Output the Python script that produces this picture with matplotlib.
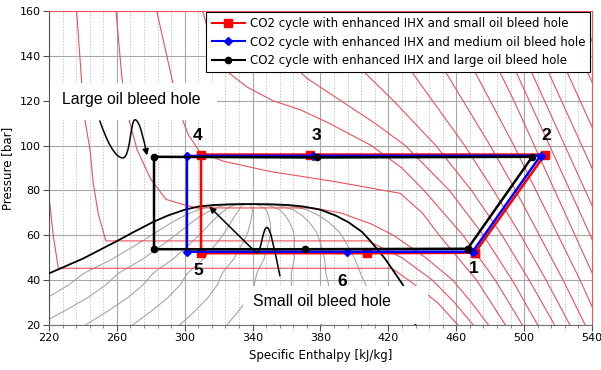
import numpy as np
import matplotlib
matplotlib.use("Agg")
import matplotlib.pyplot as plt
from matplotlib.path import Path
from matplotlib.patches import FancyArrowPatch, Rectangle
from matplotlib.lines import Line2D

# ---------------- cycle data ----------------
series_labels = ["CO2 cycle with enhanced IHX and small oil bleed hole",
                 "CO2 cycle with enhanced IHX and medium oil bleed hole",
                 "CO2 cycle with enhanced IHX and large oil bleed hole"]
# state order: 1, 2, 3, 4, 5, 6, back to 1
small_h = [471.0, 512.3, 373.8, 309.6, 309.6, 407.2, 471.0]
small_p = [52.2, 96.0, 96.0, 96.0, 52.0, 52.0, 52.2]
medium_h = [469.7, 509.7, 375.7, 301.3, 301.3, 395.4, 469.7]
medium_p = [52.7, 95.5, 95.4, 95.4, 52.7, 52.7, 52.7]
large_h = [466.7, 504.8, 377.7, 281.9, 281.9, 370.9, 466.7]
large_p = [54.0, 95.0, 94.7, 95.0, 53.8, 53.8, 54.0]

state_names = ["1", "2", "3", "4", "5", "6"]
state_label_h = [470.4, 512.9, 377.9, 307.8, 307.8, 392.7]
state_label_p = [45.4, 104.3, 104.3, 104.3, 44.5, 39.2]

# ---------------- saturation (dome) ----------------
sat_p = [20, 26, 32, 38, 43, 49.6, 57.4, 61.5, 65.8, 68.8, 71.4, 72.8, 73.5, 73.8, 73.9]
sat_hl = [158, 177, 195, 210, 220, 240, 260, 270, 281, 290, 300, 308, 317, 326, 334]
sat_hv = [436, 434.5, 432, 428.5, 424, 418, 409.5, 404.5, 396.5, 389, 380, 370, 361, 352, 340]
qualities = [0.1, 0.2, 0.3, 0.4, 0.5, 0.6, 0.7, 0.8, 0.9]

# ---------------- isotherms ----------------
iso_p = [20, 40, 60, 80, 100, 120, 140, 160]
h_70 = [518, 503, 487, 469, 448, 423, 396, 375]
h_80 = [527, 513, 498, 482, 465, 446, 427, 410]
h_90 = [536, 523, 509, 495, 480, 464, 448, 432]
h_100 = [545, 533, 520, 507, 494, 480, 466, 452]
h_110 = [554, 542, 530, 518, 506, 494, 481, 468]
h_120 = [563, 551, 539, 527, 515, 503, 491, 479]
h_130 = [572, 560, 548, 536, 524, 512, 500, 488]
h_140 = [581, 570, 558, 546, 534, 522, 510, 498]
h_150 = [590, 579, 568, 557, 545, 533, 521, 509]
h_160 = [600, 589, 578, 567, 556, 545, 533, 521]
h_170 = [609, 598, 588, 577, 566, 555, 544, 532]

t60_p = [20, 40, 60, 80, 100, 110, 120, 130, 140, 160]
t60_h = [508, 493, 476, 456, 430, 412, 392, 372, 358, 340]
t50_p = [20, 40, 60, 80, 90, 100, 110, 116, 120, 126, 133, 145, 160]
t50_h = [499, 483, 464, 441, 428, 410, 385, 368, 352, 337, 325, 316, 310.6]
t40_p = [20, 40, 60, 70, 78.7, 84, 88.5, 93, 97, 105, 115, 128, 160]
t40_h = [489, 472, 450, 440, 427, 388, 350, 323, 309, 302, 297, 293, 283.5]
t30_p = [160, 130, 112, 98, 85, 76, 73.5, 72.2, 72.2, 70, 65, 60, 50, 40, 30, 20]
t30_h = [259.5, 263, 267, 272, 280, 289, 300, 307, 375.7, 392, 410, 423, 442, 458, 469, 479]
t20_p = [160, 127.8, 111.4, 98, 83.2, 69.8, 57.5, 57.5, 50, 40, 30, 20]
t20_h = [236.3, 239.3, 241.2, 244.2, 246.1, 249, 253.5, 408, 428, 446, 459, 470]
t10_p = [160, 120, 80, 60, 45.3, 45.3, 40, 30, 20]
t10_h = [213, 216, 219.6, 222.5, 225.5, 422, 432, 449, 461]

# ---------------- figure ----------------
fig = plt.figure(figsize=(6.01, 3.70), dpi=100)
ax = fig.add_axes([0.0815, 0.1216, 0.9035, 0.8486])
ax.set_xlim(220, 540)
ax.set_ylim(20, 160)

ax.set_xticks(np.arange(220, 541, 40))
ax.set_xticks(np.arange(220, 541, 8), minor=True)
ax.set_yticks(np.arange(20, 161, 20))
ax.grid(which="major", color="#a8a8a8", lw=0.8, zorder=0)
ax.grid(which="minor", axis="x", color="#c8c8c8", lw=0.7, ls=(0, (1.5, 1.5)), zorder=0)
ax.set_axisbelow(True)

iso_color = "#e8525a"
iso_kw = dict(color=iso_color, lw=0.8, zorder=2)
for hs in [h_70, h_80, h_90, h_100, h_110, h_120, h_130, h_140, h_150, h_160, h_170]:
    ax.plot(hs, iso_p, **iso_kw)
for hs, ps in [(t60_h, t60_p), (t50_h, t50_p), (t40_h, t40_p), (t30_h, t30_p),
               (t20_h, t20_p), (t10_h, t10_p)]:
    ax.plot(hs, ps, **iso_kw)

# quality lines
hl = np.array(sat_hl); hv = np.array(sat_hv)
for q in qualities:
    ax.plot(hl + q * (hv - hl), sat_p, color="#a6a6a6", lw=0.8, zorder=1.5)

# saturation dome
dome_h = sat_hl + sat_hv[::-1]
dome_p = sat_p + sat_p[::-1]
ax.plot(dome_h, dome_p, color="black", lw=1.3, zorder=3)

# cycles
ax.plot(small_h, small_p, color="#ff0000", lw=1.8, marker="s", ms=5.5, zorder=4)
ax.plot(medium_h, medium_p, color="#0000ff", lw=1.8, marker="D", ms=4.5, zorder=4.1)
ax.plot(large_h, large_p, color="black", lw=1.8, marker="o", ms=4.5, zorder=4.2)

for name, h, p in zip(state_names, state_label_h, state_label_p):
    ax.text(h, p, name, ha="center", va="center", fontsize=12.5, fontweight="bold",
            family="Liberation Sans", zorder=6)

# annotation boxes
ax.add_patch(Rectangle((220.6, 111.4), 98.4, 16.5, facecolor="white", edgecolor="none", zorder=5))
ax.text(268.3, 120.6, "Large oil bleed hole", ha="center", va="center", fontsize=11.4,
        family="Liberation Sans", zorder=6)
ax.add_patch(Rectangle((334.3, 20.4), 109.0, 17.0, facecolor="white", edgecolor="none", zorder=5))
ax.text(380.9, 30.4, "Small oil bleed hole", ha="center", va="center", fontsize=11.4,
        family="Liberation Sans", zorder=6)

verts_large = [(250.0, 111.0), (254.0, 102.0), (259.0, 94.5), (263.5, 94.5),
               (268.0, 94.5), (268.0, 111.5), (270.7, 111.5),
               (273.5, 111.5), (276.0, 102.0), (277.8, 95.6)]
codes = [Path.MOVETO] + [Path.CURVE4] * 9
ax.add_patch(FancyArrowPatch(path=Path(verts_large, codes), arrowstyle="-|>",
                             mutation_scale=9, lw=1.1, color="black", zorder=7))
verts_small = [(356.1, 41.9), (352.5, 55.0), (350.5, 63.5), (348.4, 63.5),
               (346.0, 63.5), (345.0, 52.0), (342.4, 52.0), (314.5, 72.8)]
codes_s = [Path.MOVETO] + [Path.CURVE4] * 6 + [Path.LINETO]
ax.add_patch(FancyArrowPatch(path=Path(verts_small, codes_s), arrowstyle="-|>",
                             mutation_scale=9, lw=1.1, color="black", zorder=7))

# spines
ax.spines["top"].set_color(iso_color)
ax.spines["right"].set_color(iso_color)
ax.spines["left"].set_color("#505050")
ax.spines["bottom"].set_color("#707070")
ax.tick_params(which="major", length=4, width=0.8, color="#505050", labelsize=8, pad=2)
ax.tick_params(which="minor", length=2, width=0.6, color="#707070")

ax.set_xlabel("Specific Enthalpy [kJ/kg]", fontsize=8.5, labelpad=4)
ax.set_ylabel("Pressure [bar]", fontsize=8.5, labelpad=4)

handles = [Line2D([], [], color="#ff0000", lw=1.5, marker="s", ms=5.5),
           Line2D([], [], color="#0000ff", lw=1.5, marker="D", ms=4.5),
           Line2D([], [], color="black", lw=1.5, marker="o", ms=4.5)]
leg = ax.legend(handles, series_labels, loc="upper right", bbox_to_anchor=(0.997, 0.997),
                borderaxespad=0, fontsize=8.5, fancybox=False, framealpha=1,
                edgecolor="black", handlelength=2.8, labelspacing=0.45,
                borderpad=0.45, handletextpad=0.4)
leg.get_frame().set_linewidth(0.8)
leg.set_zorder(10)

fig.savefig("out.png", dpi=100)
